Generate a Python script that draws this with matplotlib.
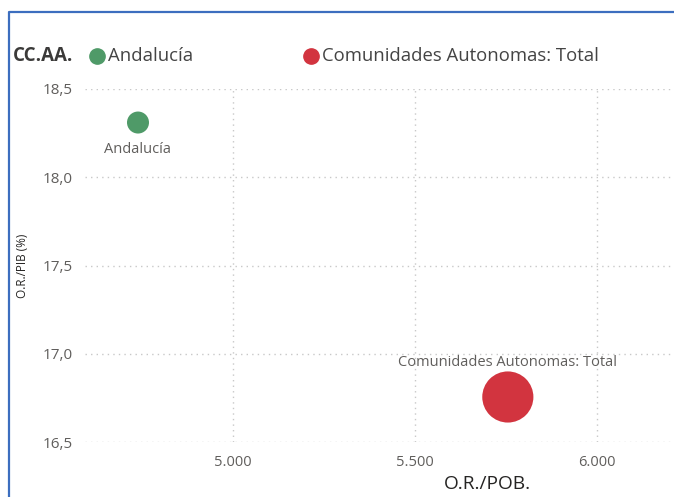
import matplotlib
matplotlib.use("Agg")
import matplotlib.pyplot as plt
from matplotlib.lines import Line2D

plt.rcParams['font.family'] = ['Open Sans', 'DejaVu Sans']

# datos
regiones = ['Andalucía', 'Comunidades Autonomas: Total']
or_pob = [4739, 5755]          # O.R./POB.
or_pib = [18.31, 16.755]       # O.R./PIB (%)
peso = [1.0, 5.4]              # tamaño relativo de burbuja
colores = ['#4f9a68', '#d2343f']

x_ticks = [5000, 5500, 6000]
x_labels = ['5.000', '5.500', '6.000']
y_ticks = [16.5, 17.0, 17.5, 18.0, 18.5]
y_labels = ['16,5', '17,0', '17,5', '18,0', '18,5']

W, H = 674, 497
fig = plt.figure(figsize=(W / 100, H / 100), dpi=100)

def fx(px):
    return px / W

def fy(py):
    return 1 - py / H

ax = fig.add_axes([fx(85), fy(442), fx(674) - fx(85), fy(89) - fy(442)])
ax.set_xlim(4593.4, 6211.5)
ax.set_ylim(16.5, 18.5)

base = 251  # area (pt^2) for peso = 1
ax.scatter(or_pob, or_pib, s=[base * p for p in peso], c=colores,
           edgecolors='none', zorder=3, clip_on=False)

# etiquetas de datos
ax.annotate(regiones[0], (or_pob[0], or_pib[0]), xytext=(0, -19.5),
            textcoords='offset points', ha='center', va='center',
            fontsize=10.5, color='#605e5c')
ax.annotate(regiones[1], (or_pob[1], or_pib[1]), xytext=(0, 24.5),
            textcoords='offset points', ha='center', va='center',
            fontsize=10.5, color='#605e5c')

ax.set_xticks(x_ticks)
ax.set_xticklabels(x_labels)
ax.set_yticks(y_ticks)
ax.set_yticklabels(y_labels)
ax.tick_params(axis='x', length=0, pad=9, labelsize=10.5, labelcolor='#605e5c')
ax.tick_params(axis='y', length=0, pad=9, labelsize=11, labelcolor='#605e5c')
for s in ax.spines.values():
    s.set_visible(False)
ax.grid(True, color='#c8c8c8', linestyle=(0, (1, 3)), linewidth=1)
ax.set_axisbelow(True)

fig.text(fx(487), fy(484), 'O.R./POB.', ha='center', va='center',
         fontsize=13.8, color='#252423')
fig.text(fx(22), fy(266), 'O.R./PIB (%)', ha='center', va='center',
         rotation=90, fontsize=8.5, color='#252423')

# leyenda
fig.text(fx(13), fy(56), 'CC.AA.', ha='left', va='center', fontsize=13.5,
         fontweight='bold', color='#3b3a39')
for cx, nombre, col in zip([97, 311], regiones, colores):
    fig.add_artist(Line2D([fx(cx)], [fy(56)], marker='o', markersize=11,
                          color=col, linestyle='none'))
    fig.text(fx(cx + 11), fy(56), nombre, ha='left', va='center',
             fontsize=13.3, color='#444444')

# marco azul
fig.add_artist(Line2D([fx(9), fx(9), fx(674)], [fy(497), fy(12), fy(12)],
                      color='#3c6ebf', linewidth=1.6))

fig.savefig('out.png', dpi=100)
